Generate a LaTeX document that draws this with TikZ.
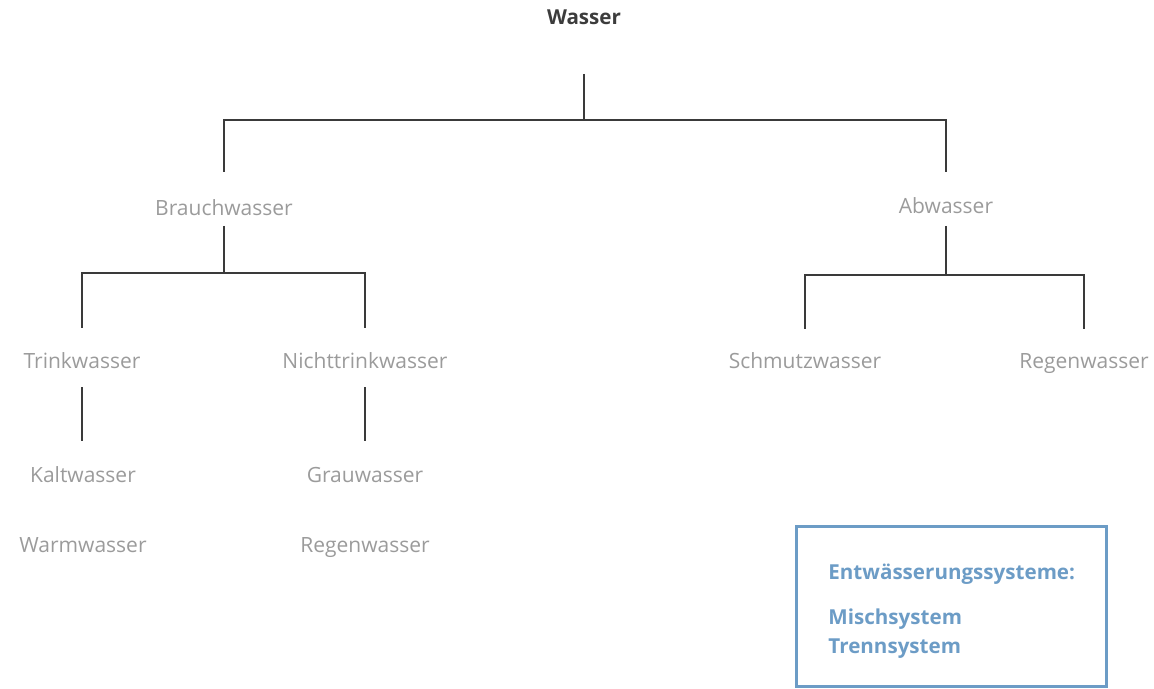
\documentclass[tikz,border=0pt]{standalone}
\usepackage{fontspec}
\setmainfont{Open Sans}
\usetikzlibrary{positioning}
\definecolor{txtgray}{HTML}{9B9B9B}
\definecolor{headgray}{HTML}{3C3C3C}
\definecolor{linegray}{HTML}{3A3A3A}
\definecolor{sysblue}{HTML}{6C9CC6}

\begin{document}
\begin{tikzpicture}[
        x=0.5pt,y=-0.5pt,
        every node/.style={inner sep=0pt,anchor=base,font=\fontsize{10.5}{12}\selectfont},
        head/.style={text=headgray,font=\fontsize{10.3}{12}\selectfont\bfseries},
        item/.style={text=txtgray},
        tree/.style={draw=linegray,line width=0.6pt},
        sysbox/.style={draw=sysblue,line width=1.5pt,minimum width=155pt,minimum height=80pt,anchor=center},
        systext/.style={text=sysblue,anchor=base west,font=\fontsize{10.3}{12}\selectfont\bfseries},
        ]
        \useasboundingbox (0,0) rectangle (1154,689);

        \node[head] (wasser)  at (584,25)  {Wasser};
        \node[item] (brauch)  at (224,216) {Brauchwasser};
        \node[item] (abw)     at (946,214) {Abwasser};
        \node[item] (trink)   at (82,368)  {Trinkwasser};
        \node[item] (nicht)   at (365,368) {Nichttrinkwasser};
        \node[item] (schmutz) at (805,368) {Schmutzwasser};
        \node[item] (regen)   at (1084,368) {Regenwasser};
        \node[item] (kalt)    at (83,482)  {Kaltwasser};
        \node[item] (warm)    at (83,552)  {Warmwasser};
        \node[item] (grau)    at (365,482) {Grauwasser};
        \node[item] (regen2)  at (365,552) {Regenwasser};

        \coordinate (f0) at (584,120);
        \coordinate (f1) at (224,273);
        \coordinate (f2) at (946,275);

        % Baum
        \draw[tree,shorten <=24.5pt,shorten >=22pt] (wasser.base) -- (f0) -| (brauch.base);
        \draw[tree,shorten >=21pt] (f0) -| (abw.base);
        \draw[tree,shorten <=5pt,shorten >=20pt] (brauch.base) -- (f1) -| (trink.base);
        \draw[tree,shorten >=20pt] (f1) -| (nicht.base);
        \draw[tree,shorten <=6pt,shorten >=19.5pt] (abw.base) -- (f2) -| (schmutz.base);
        \draw[tree,shorten >=19.5pt] (f2) -| (regen.base);
        \draw[tree,shorten <=9.5pt,shorten >=20.5pt] (trink.base) -- (trink.base |- kalt.base);
        \draw[tree,shorten <=9.5pt,shorten >=20.5pt] (nicht.base) -- (nicht.base |- grau.base);

        % Entwaesserung
        \node[sysbox] (sys) at (951.5,606) {};
        \node[systext] (systitle) at (828,579) {Entwässerungssysteme:};
        \node[systext] (misch) at (828,624) {Mischsystem};
        \node[systext] (trenn) at (828,653) {Trennsystem};
      \end{tikzpicture}
\end{document}
